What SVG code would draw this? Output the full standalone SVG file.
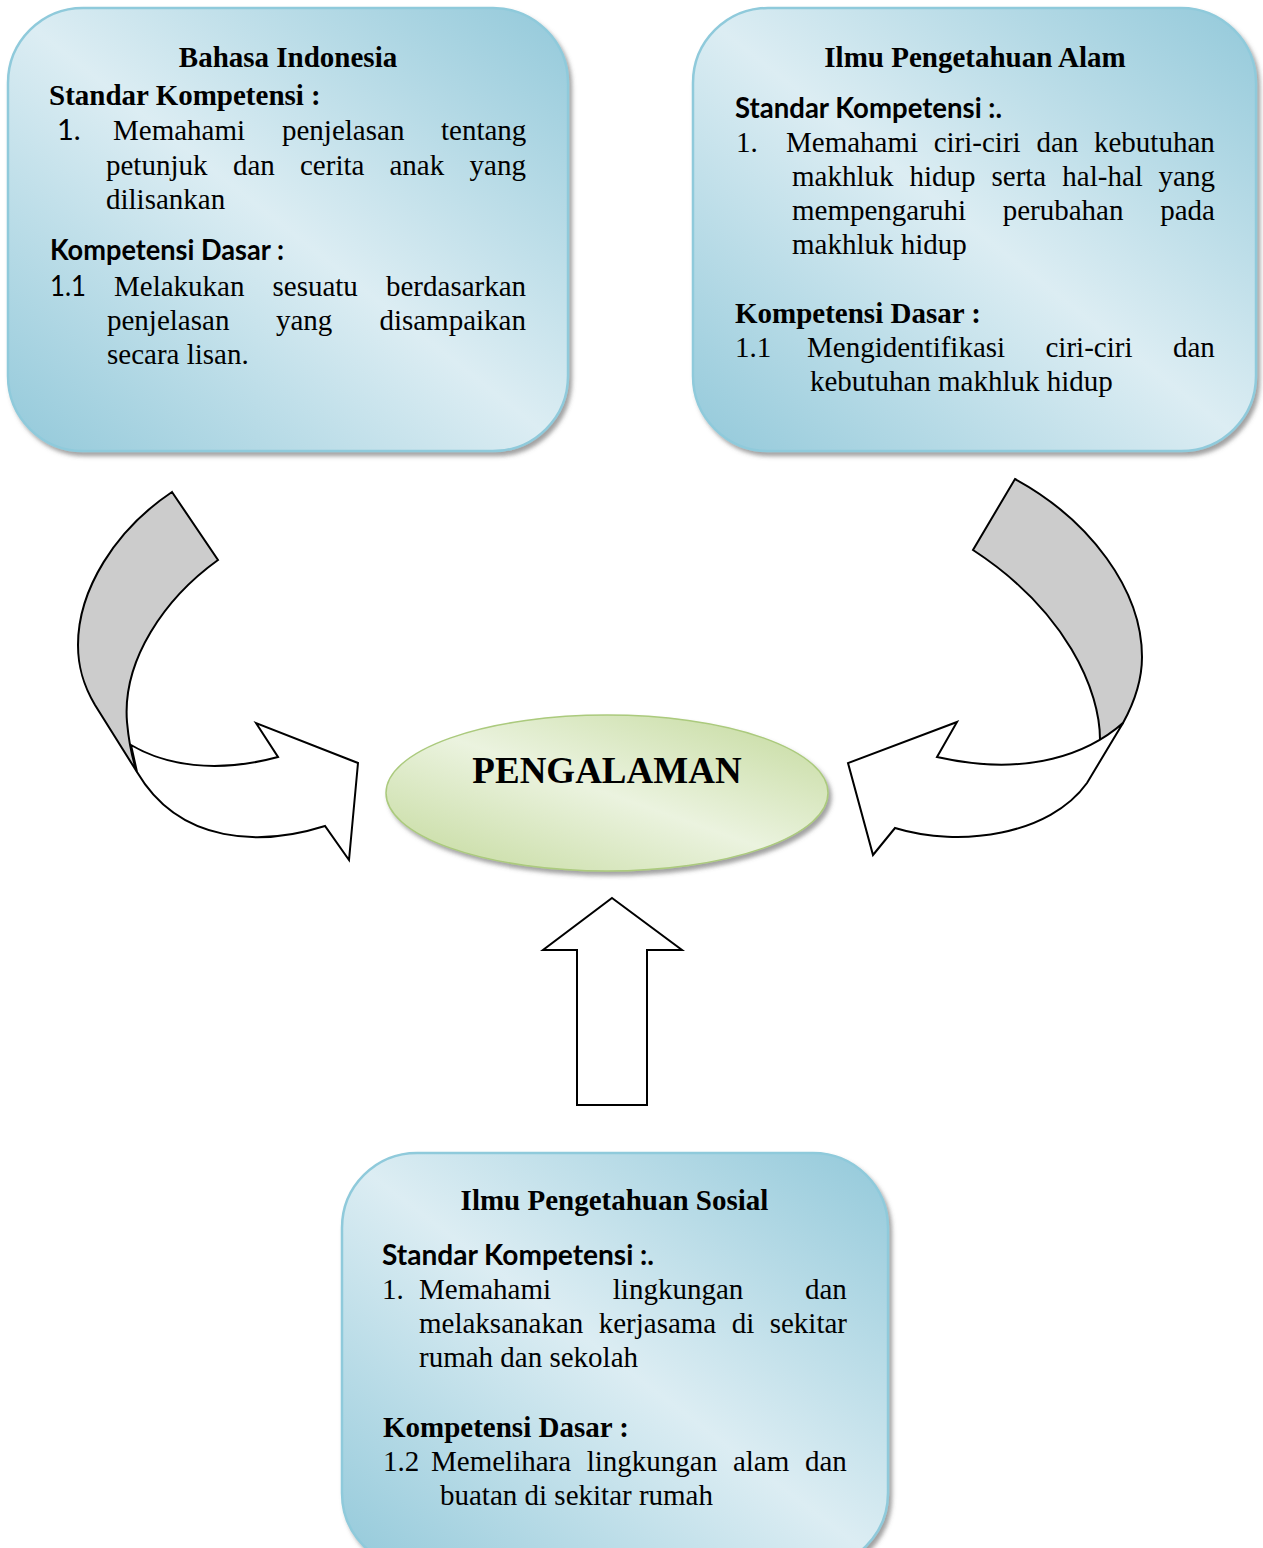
<svg xmlns="http://www.w3.org/2000/svg" width="1263" height="1548" viewBox="0 0 1263 1548">
<defs>
<linearGradient id="boxGrad" x1="0" y1="1" x2="1" y2="0">
<stop offset="0" stop-color="#93c9da"/>
<stop offset="0.5" stop-color="#dcedf3"/>
<stop offset="1" stop-color="#93c9da"/>
</linearGradient>
<linearGradient id="ellGrad" x1="0" y1="1" x2="1" y2="0">
<stop offset="0" stop-color="#c3d99b"/>
<stop offset="0.5" stop-color="#ebf3df"/>
<stop offset="1" stop-color="#c3d99b"/>
</linearGradient>
<filter id="sh" x="-5%" y="-5%" width="115%" height="115%">
<feDropShadow dx="3" dy="4" stdDeviation="2" flood-color="#555" flood-opacity="0.55"/>
</filter>
</defs>
<style>
.box{fill:url(#boxGrad);stroke:#8fcadb;stroke-width:2.5;filter:url(#sh)}
.ser{font-family:"Liberation Serif","Times New Roman",serif;font-size:29px;fill:#000}
.serb{font-family:"Liberation Serif","Times New Roman",serif;font-size:29px;font-weight:bold;fill:#000}
.san{font-family:Lato,"Open Sans","Liberation Sans",sans-serif;font-size:29px;fill:#000}
.sanb{font-family:Lato,"Open Sans","Liberation Sans",sans-serif;font-size:29px;font-weight:bold;fill:#000}
.grey{fill:#cccccc;stroke:#000;stroke-width:2;stroke-linejoin:miter}
.wht{fill:#ffffff;stroke:#000;stroke-width:2;stroke-linejoin:miter}
</style>

<g id="connectors">
<g id="arrow-left">
<path class="grey" d="M172,492 L218,560 C165,598 122,660 127,722 C129,744 132,758 137,772 L95,705 C82,683 78,665 78,645 C78,590 115,530 172,492 Z"/>
<path class="wht" d="M131,745 C165,765 215,774 278,757 L256,723 L358,763 L349,860 L325,826 C262,846 180,845 137,772 C135,763 133,754 131,745 Z"/>
</g>
<g id="arrow-right">
<path class="grey" d="M1015,479 C1090,520 1142,590 1142,657 C1142,680 1134,703 1123,723 C1116,731 1108,737 1100,742 C1101,690 1065,610 973,550 Z"/>
<path class="wht" d="M937,757 L957,722 L848,763 L873,855 L895,828 C960,848 1050,835 1087,783 L1123,723 C1090,752 1030,778 937,757 Z"/>
</g>
<g id="arrow-up">
<path class="wht" d="M612,898 L682,950 L647,950 L647,1105 L577,1105 L577,950 L543,950 Z"/>
</g>
</g>

<g id="node-bahasa">
<rect class="box" x="8" y="8" width="560" height="443" rx="75" ry="75"/>
<g transform="translate(0,2)">
<text class="serb" x="288" y="65" text-anchor="middle">Bahasa Indonesia</text>
<text class="serb" x="49" y="103">Standar Kompetensi :</text>
<text class="san" x="57" y="138">1.</text>
<text class="ser" y="138"><tspan x="113">Memahami</tspan><tspan x="282">penjelasan</tspan><tspan x="441">tentang</tspan></text>
<text class="ser" y="173"><tspan x="106">petunjuk</tspan><tspan x="233">dan</tspan><tspan x="300">cerita</tspan><tspan x="389.5">anak</tspan><tspan x="469.6">yang</tspan></text>
<text class="ser" x="106" y="207">dilisankan</text>
<text class="sanb" x="50" y="258" textLength="234" lengthAdjust="spacingAndGlyphs">Kompetensi Dasar :</text>
<text class="san" x="50" y="294" textLength="36" lengthAdjust="spacingAndGlyphs">1.1</text>
<text class="ser" y="294"><tspan x="114">Melakukan</tspan><tspan x="272.5">sesuatu</tspan><tspan x="386">berdasarkan</tspan></text>
<text class="ser" y="328"><tspan x="107">penjelasan</tspan><tspan x="276">yang</tspan><tspan x="379.4">disampaikan</tspan></text>
<text class="ser" x="107" y="362">secara lisan.</text>
</g>
</g>

<g id="node-ipa">
<rect class="box" x="693" y="8" width="563" height="443" rx="75" ry="75"/>
<g transform="translate(0,2)">
<text class="serb" x="975" y="65" text-anchor="middle">Ilmu Pengetahuan Alam</text>
<text class="sanb" x="735" y="116" textLength="267" lengthAdjust="spacingAndGlyphs">Standar Kompetensi :.</text>
<text class="ser" y="150"><tspan x="736">1.</tspan><tspan x="786">Memahami</tspan><tspan x="933.7">ciri-ciri</tspan><tspan x="1036.4">dan</tspan><tspan x="1094">kebutuhan</tspan></text>
<text class="ser" y="184"><tspan x="792">makhluk</tspan><tspan x="909.5">hidup</tspan><tspan x="991.5">serta</tspan><tspan x="1062.3">hal-hal</tspan><tspan x="1158.6">yang</tspan></text>
<text class="ser" y="218"><tspan x="792">mempengaruhi</tspan><tspan x="1002.7">perubahan</tspan><tspan x="1160.2">pada</tspan></text>
<text class="ser" x="792" y="252">makhluk hidup</text>
<text class="serb" x="735" y="321">Kompetensi Dasar :</text>
<text class="ser" y="355"><tspan x="735">1.1</tspan><tspan x="807">Mengidentifikasi</tspan><tspan x="1045.5">ciri-ciri</tspan><tspan x="1173">dan</tspan></text>
<text class="ser" x="810" y="389">kebutuhan makhluk hidup</text>
</g>
</g>

<g id="node-pengalaman">
<ellipse cx="607" cy="793" rx="221" ry="78" fill="url(#ellGrad)" stroke="#abca7d" stroke-width="1.5" filter="url(#sh)"/>
<text x="607" y="783" text-anchor="middle" font-family="'Liberation Serif','Times New Roman',serif" font-size="37" font-weight="bold" fill="#000">PENGALAMAN</text>
</g>

<g id="node-ips">
<rect class="box" x="342" y="1153" width="546" height="415" rx="75" ry="75"/>
<g transform="translate(0,1)">
<text class="serb" x="614.5" y="1209" text-anchor="middle">Ilmu Pengetahuan Sosial</text>
<text class="sanb" x="382" y="1264" textLength="272" lengthAdjust="spacingAndGlyphs">Standar Kompetensi :.</text>
<text class="ser" y="1298"><tspan x="382">1.</tspan><tspan x="419">Memahami</tspan><tspan x="612.8">lingkungan</tspan><tspan x="805">dan</tspan></text>
<text class="ser" y="1332"><tspan x="419">melaksanakan</tspan><tspan x="598.7">kerjasama</tspan><tspan x="731.7">di</tspan><tspan x="769.7">sekitar</tspan></text>
<text class="ser" x="419" y="1366">rumah dan sekolah</text>
<text class="serb" x="383" y="1436">Kompetensi Dasar :</text>
<text class="ser" y="1470"><tspan x="383">1.2</tspan><tspan x="431">Memelihara</tspan><tspan x="586.7">lingkungan</tspan><tspan x="732.9">alam</tspan><tspan x="805">dan</tspan></text>
<text class="ser" x="440" y="1504">buatan di sekitar rumah</text>
</g>
</g>
</svg>
